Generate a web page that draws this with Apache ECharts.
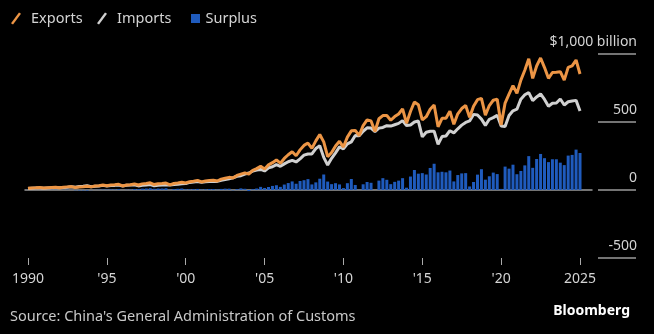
<!DOCTYPE html>
<html><head><meta charset="utf-8">
<script src="https://cdn.jsdelivr.net/npm/echarts@6/dist/echarts.min.js"></script>
<style>html,body{margin:0;padding:0;background:#000;}#c{width:654px;height:334px;}</style>
</head><body><div id="c"></div>
<script>
// Quarterly data, 1990 Q1 .. 2025 Q1, USD billion
const startYear = 1990;
const exportsBn = [
  13,15,16,18, 15,17,19,21, 17,20,23,25, 18,22,24,28, 23,29,32,37,
  32,37,38,42, 30,37,39,45, 37,45,48,53, 40,46,47,51, 38,48,52,57,
  52,61,65,71, 59,66,69,72, 66,80,87,93, 88,107,117,126, 117,145,157,174,
  155,185,201,221, 197,232,259,281, 252,295,328,345, 306,361,408,354, 245,276,323,358,
  316,389,435,438, 400,474,516,508, 430,524,547,548, 513,540,559,597, 491,577,647,627,
  515,539,594,625, 465,527,527,579, 483,560,599,621, 534,615,664,674, 551,621,660,667,
  478,639,705,768, 710,808,881,965, 821,912,971,900, 821,864,866,870, 808,902,913,956,
  853
];
const importsBn = [
  11,13,14,15, 13,15,17,19, 17,19,21,24, 20,25,27,32, 24,28,30,34,
  29,33,34,36, 30,35,36,38, 30,35,37,40, 31,35,36,38, 36,41,43,46,
  47,56,59,63, 56,61,62,65, 63,72,77,83, 90,101,105,117, 125,139,146,151,
  140,163,171,186, 174,192,208,218, 206,229,256,265, 265,305,325,240, 183,233,273,317,
  302,339,354,401, 399,432,457,455, 430,455,460,473, 470,480,490,510, 474,478,500,507,
  391,425,432,432, 335,393,397,436, 420,450,477,497, 508,556,551,521, 475,520,532,550,
  470,467,548,582, 594,668,700,716, 658,684,706,666, 616,638,640,669, 625,649,655,659,
  581
];
const surplusBn = [
  2,2,2,3, 2,2,2,2, 0,1,2,1, -2,-3,-3,-4, -1,1,2,3,
  3,4,4,6, 0,2,3,7, 7,10,11,13, 9,11,11,13, 2,7,9,11,
  5,5,6,8, 3,5,7,7, 3,8,10,10, -2,6,12,9, -8,6,11,23,
  15,22,30,35, 23,40,51,63, 46,66,72,80, 41,56,83,114, 62,43,50,41,
  14,50,81,37, 1,42,59,53, 0,69,87,75, 43,60,69,87, 17,99,147,120,
  124,114,162,193, 130,134,130,143, 63,110,122,124, 26,59,113,153, 76,101,128,117,
  8,172,157,186, 116,140,181,249, 163,228,265,234, 205,226,226,201, 183,253,258,297,
  272
];
const xTickYears = [1990,1995,2000,2005,2010,2015,2020,2025];
const xTickLabels = ['1990',"'95","'00","'05","'10","'15","'20",'2025'];
const yTickLabels = {'-500':'-500','0':'0','500':'500','1000':'$1,000 billion'};

const qx = i => startYear + i / 4;
const toPts = arr => arr.map((v, i) => [qx(i), v]);

const FONT = 'Noto Sans';
const TXT = '#d4d4d4';
const C_EXP = '#ec9545', C_IMP = '#d0d0d0', C_SUR = '#1f5bbd';
const SLASH = 'path://M8,0 L10,1.2 L2,12 L0,10.8 Z';
const xMin = 1989.81, xMax = 2025.76;

function legendFor(name, icon, left, w, h) {
  return {
    data: [{ name: name, icon: icon }],
    left: left, top: 6, itemWidth: w, itemHeight: h, selectedMode: false,
    textStyle: { color: TXT, fontSize: 14.5, fontFamily: FONT }
  };
}

const chart = echarts.init(document.getElementById('c'));
chart.setOption({
  backgroundColor: '#000',
  animation: false,
  textStyle: { fontFamily: FONT },
  legend: [
    legendFor('Exports', SLASH, 6, 20, 12),
    legendFor('Imports', SLASH, 92, 20, 12),
    legendFor('Surplus', 'path://M0,0H10V10H0Z', 186, 10, 9)
  ],
  grid: { left: 25, right: 62, top: 54, bottom: 76 },
  xAxis: [
    {
      type: 'value', min: xMin, max: xMax,
      axisLine: { show: true, onZero: true, lineStyle: { color: '#9a9a9a', width: 1.5 } },
      axisTick: { show: false }, axisLabel: { show: false }, splitLine: { show: false }
    },
    {
      type: 'value', min: xMin, max: xMax, position: 'bottom',
      axisLine: { show: false, onZero: false },
      axisTick: { show: true, customValues: xTickYears, length: 7, lineStyle: { color: '#aaa', width: 1 } },
      axisLabel: {
        customValues: xTickYears, margin: 14, color: TXT, fontSize: 14, fontFamily: FONT,
        formatter: v => xTickLabels[xTickYears.indexOf(Math.round(v))] || ''
      },
      splitLine: { show: false }
    }
  ],
  yAxis: {
    type: 'value', position: 'right', min: -500, max: 1000, interval: 500, offset: 6,
    axisLine: { show: false },
    axisTick: { show: true, length: 38, lineStyle: { color: '#9a9a9a', width: 1.5 } },
    axisLabel: {
      margin: 39, align: 'right', verticalAlign: 'bottom', padding: [0, 0, 5, 0],
      color: TXT, fontSize: 14, fontFamily: FONT,
      formatter: v => yTickLabels[String(v)] || ''
    },
    splitLine: { show: false }
  },
  series: [
    {
      name: 'Surplus', type: 'bar', xAxisIndex: 0, barWidth: 3,
      itemStyle: { color: C_SUR },
      data: toPts(surplusBn)
    },
    {
      name: 'Imports', type: 'line', xAxisIndex: 0, symbol: 'none',
      itemStyle: { color: C_IMP },
      lineStyle: { color: C_IMP, width: 3 },
      data: toPts(importsBn)
    },
    {
      name: 'Exports', type: 'line', xAxisIndex: 0, symbol: 'none',
      itemStyle: { color: C_EXP },
      lineStyle: { color: C_EXP, width: 3 },
      data: toPts(exportsBn)
    }
  ],
  graphic: [
    { type: 'text', left: 10, top: 309,
      style: { text: "Source: China's General Administration of Customs", fill: '#c8c8c8', font: '14.5px "' + FONT + '"' } },
    { type: 'text', right: 24, top: 304,
      style: { text: 'Bloomberg', fill: '#ffffff', font: 'bold 14px "' + FONT + '"' } }
  ]
});
</script>
</body></html>
